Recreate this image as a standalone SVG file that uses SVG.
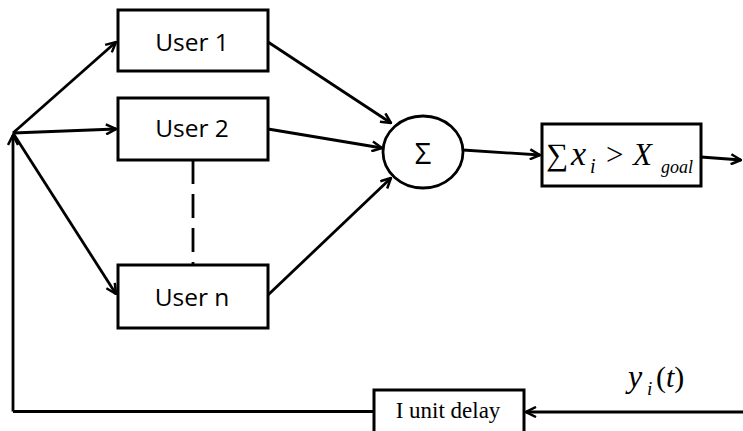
<svg xmlns="http://www.w3.org/2000/svg" width="743" height="431" viewBox="0 0 743 431">
<style>
.box{fill:#fff;stroke:#000;stroke-width:3}
.ln{fill:none;stroke:#000;stroke-width:2.8}
.lbl{font-family:"Open Sans","Noto Sans",sans-serif;font-size:24.5px;fill:#000;text-anchor:middle}
.m{font-family:"Liberation Serif","DejaVu Serif",serif;fill:#000}
</style>
<defs>
<marker id="arr" viewBox="0 0 12 12" refX="11" refY="6" markerWidth="12" markerHeight="12" markerUnits="userSpaceOnUse" orient="auto">
<path d="M1,1 L11,6 L1,11" fill="none" stroke="#000" stroke-width="2.5"/>
</marker>
</defs>
<rect width="743" height="431" fill="#fff"/>
<g id="connectors">
<line class="ln" x1="13" y1="411.5" x2="13" y2="135" marker-end="url(#arr)"/>
<line class="ln" x1="13" y1="411.5" x2="374" y2="411.5"/>
<line class="ln" x1="13" y1="133" x2="116" y2="42" marker-end="url(#arr)"/>
<line class="ln" x1="13" y1="133" x2="116" y2="129" marker-end="url(#arr)"/>
<line class="ln" x1="13" y1="133" x2="116" y2="294" marker-end="url(#arr)"/>
<line class="ln" x1="268" y1="42" x2="391" y2="123" marker-end="url(#arr)"/>
<line class="ln" x1="268" y1="129" x2="382" y2="148" marker-end="url(#arr)"/>
<line class="ln" x1="268" y1="295" x2="391" y2="178" marker-end="url(#arr)"/>
<line class="ln" x1="193" y1="160" x2="193" y2="265" stroke-dasharray="24 10"/>
<line class="ln" x1="463" y1="150" x2="540" y2="155" marker-end="url(#arr)"/>
<line class="ln" x1="701" y1="157" x2="741" y2="160" marker-end="url(#arr)"/>
<line class="ln" x1="743" y1="412" x2="526" y2="412" marker-end="url(#arr)"/>
</g>
<g id="user1">
<rect class="box" x="118" y="10" width="150" height="61"/>
<text class="lbl" x="192" y="51">User 1</text>
</g>
<g id="user2">
<rect class="box" x="118" y="98" width="150" height="62"/>
<text class="lbl" x="192" y="137">User 2</text>
</g>
<g id="usern">
<rect class="box" x="118" y="265" width="150" height="63"/>
<text class="lbl" x="192" y="306">User n</text>
</g>
<g id="sum">
<ellipse cx="423" cy="152" rx="40" ry="36" fill="#fff" stroke="#000" stroke-width="2.8"/>
<text x="423" y="164" font-family="Open Sans, Noto Sans, sans-serif" font-size="29" text-anchor="middle">Σ</text>
</g>
<g id="goal">
<rect class="box" x="542" y="124" width="159" height="62"/>
<text class="m" x="546" y="165" font-size="31">∑</text>
<text class="m" x="571" y="165" font-size="34" font-style="italic">x</text>
<text class="m" x="590" y="173" font-size="20" font-style="italic">i</text>
<text class="m" x="606" y="165" font-size="31">&gt;</text>
<text class="m" x="633" y="165" font-size="31" font-style="italic">X</text>
<text class="m" x="661" y="173" font-size="18" font-style="italic">goal</text>
</g>
<g id="delay">
<rect class="box" x="374" y="390" width="150" height="60"/>
<text class="m" x="448" y="418" font-size="23" text-anchor="middle">I unit delay</text>
</g>
<g id="ylabel">
<text class="m" x="628" y="387" font-size="32" font-style="italic">y</text>
<text class="m" x="647" y="395" font-size="19" font-style="italic">i</text>
<text class="m" x="656" y="387" font-size="30">(<tspan font-style="italic">t</tspan>)</text>
</g>
</svg>
